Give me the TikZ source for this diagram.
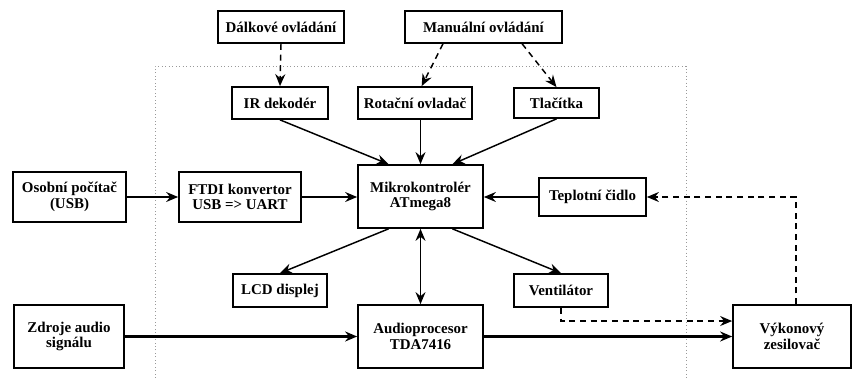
\documentclass[tikz,border=0pt]{standalone}
\usepackage{fontspec}
\setmainfont{Liberation Serif}
\usetikzlibrary{arrows.meta}

\begin{document}
\begin{tikzpicture}[x=0.75pt, y=-0.75pt,
		blok/.style={draw, line width=1.3pt, align=center, inner sep=0pt,
			font=\fontsize{11.2}{11.8}\selectfont\bfseries},
		sip/.style={-{Stealth[length=9pt, width=7.5pt, inset=3pt]}, line width=1.1pt},
		obousip/.style={{Stealth[length=9pt, width=7.5pt, inset=3pt]}-{Stealth[length=9pt, width=7.5pt, inset=3pt]}, line width=1.1pt},
		carkovany/.style={sip, dash pattern=on 4.5pt off 3.5pt},
		audio/.style={sip, line width=1.9pt},
		ramecek/.style={gray!80, dotted, line width=0.6pt}
	]
		\useasboundingbox (0,0) rectangle (853,378);

		% hranice zarizeni
		\draw[ramecek] (155,378) -- (155,66) -- (686,66) -- (686,378);

		% ovladani
		\node[blok, minimum width=94.5pt, minimum height=24pt] (dalkove) at (281,27) {Dálkové ovládání};
		\node[blok, minimum width=117.75pt, minimum height=24pt] (manualni) at (483.5,27) {Manuální ovládání};

		\node[blok, minimum width=72pt, minimum height=24pt] (ir) at (280,103) {IR dekodér};
		\node[blok, minimum width=85.5pt, minimum height=24pt] (rotacni) at (415,103) {Rotační ovladač};
		\node[blok, minimum width=63.75pt, minimum height=22.5pt] (tlacitka) at (556.5,103) {Tlačítka};

		% stred
		\node[blok, minimum width=93.75pt, minimum height=47.25pt] (mcu) at (420.5,196.5) {Mikrokontrolér\\ATmega8};
		\node[blok, minimum width=84.75pt, minimum height=37.5pt] (pc) at (69.5,197) {Osobní počítač\\(USB)};
		\node[blok, minimum width=91.5pt, minimum height=37.5pt] (ftdi) at (240,197) {FTDI konvertor\\USB => UART};
		\node[blok, minimum width=80.25pt, minimum height=28.5pt] (teplota) at (592.5,197) {Teplotní čidlo};

		\node[blok, minimum width=70.5pt, minimum height=24.75pt] (lcd) at (280,290.5) {LCD displej};
		\node[blok, minimum width=70.5pt, minimum height=24.75pt] (ventilator) at (561,290.5) {Ventilátor};

		% audio cesta
		\node[blok, minimum width=82.5pt, minimum height=47.25pt] (zdroje) at (69,336.5) {Zdroje audio\\signálu};
		\node[blok, minimum width=93.75pt, minimum height=47.25pt] (audioproc) at (420.5,336.5) {Audioprocesor\\TDA7416};
		\node[blok, minimum width=88.5pt, minimum height=47.25pt] (zesilovac) at (792,336.5) {Výkonový\\zesilovač};

		% spoje
		\draw[carkovany] (dalkove.south) -- (ir.north);
		\draw[carkovany] ([xshift=-30.4pt]manualni.south) -- ([xshift=5pt]rotacni.north);
		\draw[carkovany] ([xshift=29pt]manualni.south) -- (tlacitka.north);

		\draw[sip] (ir.south) -- ([xshift=-24pt]mcu.north);
		\draw[sip] (rotacni.south -| mcu.north) -- (mcu.north);
		\draw[sip] (tlacitka.south) -- ([xshift=24pt]mcu.north);

		\draw[sip] (pc.east) -- (ftdi.west);
		\draw[sip] (ftdi.east) -- (ftdi.east -| mcu.west);
		\draw[sip] (teplota.west) -- (teplota.west -| mcu.east);

		\draw[sip] ([xshift=-24pt]mcu.south) -- (lcd.north);
		\draw[sip] ([xshift=24pt]mcu.south) -- (ventilator.north);
		\draw[obousip] (mcu.south) -- (audioproc.north);

		\draw[audio] (zdroje.east) -- (audioproc.west);
		\draw[audio] (audioproc.east) -- (zesilovac.west);

		\draw[carkovany] (ventilator.south) |- ([yshift=11.6pt]zesilovac.west);
		\draw[carkovany] ([xshift=3pt]zesilovac.north) |- (teplota.east);

\end{tikzpicture}
\end{document}
